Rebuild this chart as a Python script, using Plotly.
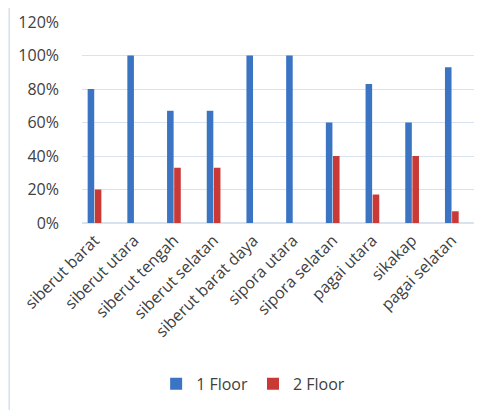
import plotly.graph_objects as go

categories = ["siberut barat", "siberut utara", "siberut tengah", "siberut selatan",
              "siberut barat daya", "sipora utara", "sipora selatan", "pagai utara",
              "sikakap", "pagai selatan"]
floor1 = [0.80, 1.00, 0.67, 0.67, 1.00, 1.00, 0.60, 0.83, 0.60, 0.93]
floor2 = [0.20, 0.00, 0.33, 0.33, 0.00, 0.00, 0.40, 0.17, 0.40, 0.07]
series_names = ["1 Floor", "2 Floor"]
y_ticks = [0, 0.2, 0.4, 0.6, 0.8, 1.0, 1.2]

font_family = "Open Sans, Liberation Sans, sans-serif"
text_color = "#404040"

fig = go.Figure()
fig.add_trace(go.Bar(x=categories, y=floor1, name=series_names[0],
                     marker=dict(color="#3A74C2", line=dict(width=0))))
fig.add_trace(go.Bar(x=categories, y=floor2, name=series_names[1],
                     marker=dict(color="#C93A37", line=dict(width=0))))

fig.update_layout(
    width=482, height=410,
    margin=dict(l=74, r=10, t=14, b=195, autoexpand=False),
    paper_bgcolor="white", plot_bgcolor="white",
    barmode="group", bargap=0.64, bargroupgap=0.08,
    font=dict(family=font_family, size=16, color=text_color),
    showlegend=True,
    legend=dict(orientation="h", x=0.43, xanchor="center", y=-0.80, yanchor="middle",
                font=dict(size=16, color=text_color), itemwidth=30, traceorder="normal"),
    xaxis=dict(type="category", tickangle=-45, showgrid=False, showline=False,
               automargin=False, ticks="", range=[-0.315, 9.71], ticklabelstandoff=4,
               tickfont=dict(size=16, color=text_color)),
    yaxis=dict(range=[0, 1.2], tickvals=y_ticks, tickformat=".0%", showgrid=True,
               automargin=False, ticklabelstandoff=22,
               gridcolor="#D9E3F0", gridwidth=1, zeroline=True, zerolinecolor="#D9E3F0",
               showline=False, ticks="", ticklen=0, tickfont=dict(size=16, color=text_color)),
    shapes=[dict(type="line", xref="paper", yref="paper", x0=-0.183, x1=-0.183,
                 y0=-1.1, y1=1.2, line=dict(color="#D5E0EE", width=1.5))],
)

fig.write_html("out.html")
